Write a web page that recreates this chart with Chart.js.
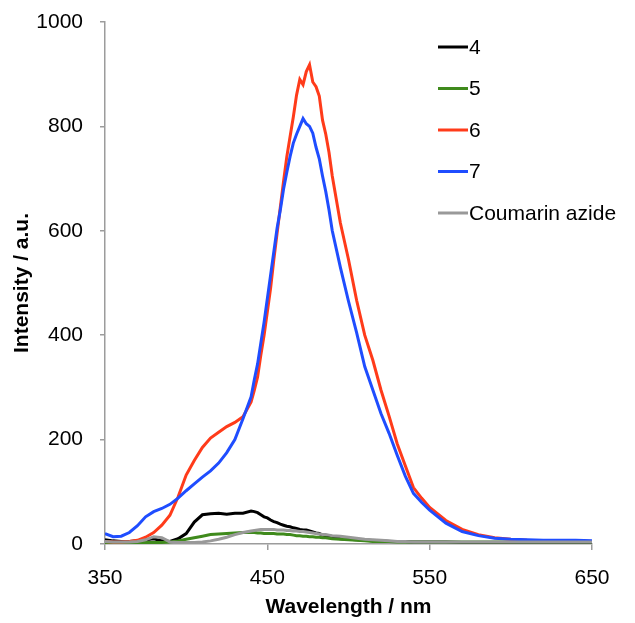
<!DOCTYPE html>
<html>
<head>
<meta charset="utf-8">
<script src="https://cdn.jsdelivr.net/npm/chart.js@4/dist/chart.umd.min.js"></script>
<style>
  html, body { margin: 0; padding: 0; background: #fff; }
  canvas { display: block; }
</style>
</head>
<body>
<canvas id="spectre" width="635" height="623"></canvas>
<script>
// ── DONNÉES ───────────────────────────────────────
const longueursOnde = [
  350, 355, 360, 365, 370, 375, 380, 385, 390, 395, 400, 405, 410, 415, 420, 425, 430, 435, 440,
  442, 444, 446, 448, 450, 452, 454, 456, 458, 460, 462, 464, 466, 468, 470, 472, 474, 476, 478,
  480, 482, 484, 486, 488, 490,
  495, 500, 505, 510, 515, 520, 525, 530, 535, 540, 545, 550,
  560, 570, 580, 590, 600, 610, 620, 630, 640, 650
];

const serie4 = [
  8, 6, 5, 5, 6, 8, 10, 6, 5, 10, 20, 42, 56, 58, 59, 57, 59, 59, 63,
  62, 60, 56, 52, 50, 46, 43, 41, 38, 36, 34, 33, 31, 30, 28, 27, 27, 25, 23,
  21, 20, 17, 16, 14, 13,
  10, 9, 8, 7, 6, 6, 5, 5, 5, 4, 4, 4,
  4, 3, 3, 3, 3, 3, 3, 3, 3, 3
];

const serie5 = [
  3, 3, 3, 3, 3, 3, 3, 3, 4, 6, 9, 12, 15, 18, 19, 20, 21, 22, 22,
  22, 21, 21, 20, 20, 20, 20, 19, 19, 19, 18, 18, 17, 16, 16, 15, 15, 14, 14,
  13, 13, 12, 12, 11, 10,
  9, 8, 7, 6, 5, 5, 5, 4, 4, 4, 4, 4,
  4, 4, 4, 4, 4, 4, 4, 4, 4, 4
];

const serie6 = [
  5, 4, 4, 5, 7, 13, 22, 36, 55, 90, 132, 160, 185, 203, 214, 225, 233, 244, 272,
  295, 320, 362, 400, 445, 490, 545, 595, 645, 695, 742, 780, 818, 860, 890, 880, 905, 918, 885,
  876, 858, 812, 785, 750, 705,
  615, 545, 467, 400, 352, 295, 245, 192, 150, 108, 88, 70,
  45, 28, 18, 12, 9, 7, 6, 6, 6, 5
];

const serie7 = [
  20, 14, 15, 22, 35, 52, 62, 68, 76, 88, 102, 115, 128, 140, 155, 175, 200, 240, 282,
  315, 345, 385, 425, 470, 515, 560, 605, 640, 680, 712, 742, 768, 785, 800, 815, 805, 800, 787,
  760, 738, 705, 675, 640, 600,
  530, 465, 405, 340, 295, 250, 212, 170, 130, 97, 80, 65,
  40, 24, 16, 11, 9, 8, 7, 7, 7, 6
];

const serieCoumarine = [
  5, 4, 4, 4, 5, 8, 14, 12, 4, 3, 3, 3, 4, 6, 9, 13, 18, 22, 25,
  26, 27, 28, 28, 28, 28, 28, 27, 27, 27, 26, 26, 25, 25, 24, 24, 23, 22, 21,
  20, 19, 18, 18, 17, 16,
  15, 13, 11, 9, 8, 7, 6, 5, 5, 4, 4, 4,
  4, 4, 4, 4, 4, 4, 4, 4, 4, 4
];

const etiquettes = ['4', '5', '6', '7', 'Coumarin azide'];
const ticksX = [350, 450, 550, 650];
const ticksY = [0, 200, 400, 600, 800, 1000];

// ── COULEURS ──────────────────────────────────────
const COULEURS = ['#000000', '#3f8a1c', '#ff3b1a', '#1f4dff', '#999999'];
const POLICE = 'Liberation Sans, Arial, sans-serif';
const GRIS_AXE = '#9c9c9c';

function points(valeurs) {
  return valeurs.map(function(v, i) { return { x: longueursOnde[i], y: v }; });
}

const series = [serie4, serie5, serie6, serie7, serieCoumarine];

// Excel dessine la dernière série au-dessus : on inverse l'ordre
const datasets = series.map(function(s, i) {
  return {
    label: etiquettes[i],
    data: points(s),
    borderColor: COULEURS[i],
    backgroundColor: COULEURS[i],
    borderWidth: 3,
    pointRadius: 0,
    tension: 0,
    order: series.length - i
  };
});

// ── LÉGENDE DANS LA ZONE DU GRAPHIQUE ─────────────
const legendeInterne = {
  id: 'legendeInterne',
  afterDraw(chart) {
    const ctx = chart.ctx;
    ctx.save();
    ctx.font = '21px ' + POLICE;
    ctx.textBaseline = 'middle';
    ctx.fillStyle = '#000';
    etiquettes.forEach(function(txt, i) {
      const y = 47 + i * 41.5;
      ctx.strokeStyle = COULEURS[i];
      ctx.lineWidth = 3;
      ctx.beginPath();
      ctx.moveTo(438, y);
      ctx.lineTo(468, y);
      ctx.stroke();
      ctx.fillText(txt, 469, y + 1);
    });
    ctx.restore();
  }
};

new Chart(document.getElementById('spectre'), {
  type: 'line',
  data: { datasets: datasets },
  options: {
    responsive: false,
    animation: false,
    layout: { padding: { left: 0, right: 43, top: 22, bottom: 0 } },
    plugins: { legend: { display: false }, tooltip: { enabled: false } },
    scales: {
      x: {
        type: 'linear',
        min: 350,
        max: 650,
        afterBuildTicks: function(s) { s.ticks = ticksX.map(function(v) { return { value: v }; }); },
        afterFit: function(s) { s.height = 79; s.paddingLeft = 0; s.paddingRight = 0; },
        ticks: {
          color: '#000', font: { family: POLICE, size: 21 }, padding: 16, maxRotation: 0,
          callback: function(v) { return String(v); }
        },
        grid: { drawOnChartArea: false, tickLength: 6, color: GRIS_AXE, lineWidth: 1.5 },
        border: { color: GRIS_AXE, width: 1.5 },
        title: {
          display: true,
          text: 'Wavelength / nm',
          color: '#000',
          font: { family: POLICE, size: 21, weight: 'bold' },
          padding: { top: 0, bottom: 3 }
        }
      },
      y: {
        type: 'linear',
        min: 0,
        max: 1000,
        afterBuildTicks: function(s) { s.ticks = ticksY.map(function(v) { return { value: v }; }); },
        afterFit: function(s) { s.width = 105; s.paddingTop = 0; s.paddingBottom = 0; },
        ticks: {
          color: '#000', font: { family: POLICE, size: 21 }, padding: 17,
          callback: function(v) { return String(v); }
        },
        grid: { drawOnChartArea: false, tickLength: 5, color: GRIS_AXE, lineWidth: 1.5 },
        border: { color: GRIS_AXE, width: 1.5 },
        title: {
          display: true,
          text: 'Intensity / a.u.',
          color: '#000',
          font: { family: POLICE, size: 21, weight: 'bold' },
          padding: { top: 10, bottom: 0 }
        }
      }
    }
  },
  plugins: [legendeInterne]
});
</script>
</body>
</html>
